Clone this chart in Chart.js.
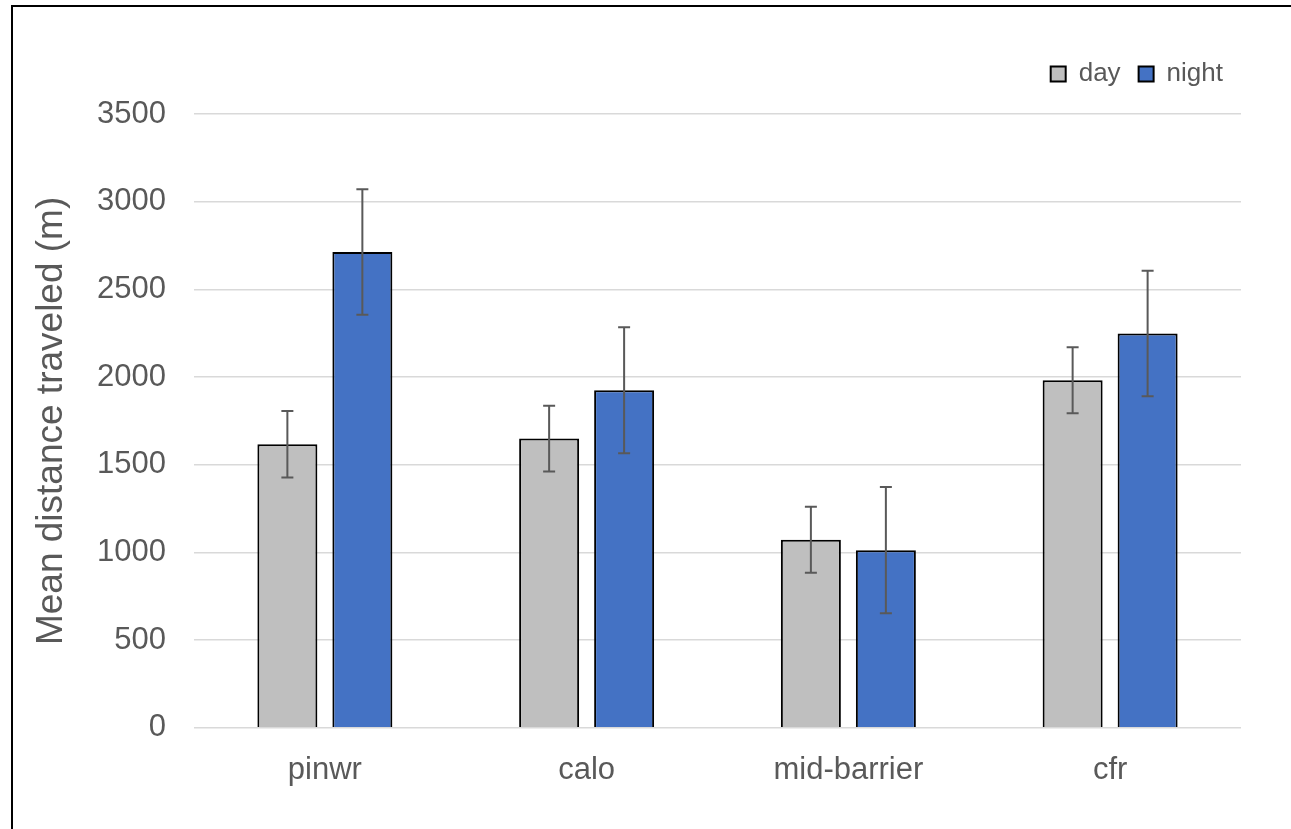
<!DOCTYPE html>
<html>
<head>
<meta charset="utf-8">
<script src="https://cdn.jsdelivr.net/npm/chart.js@4.4.1/dist/chart.umd.min.js"></script>
<style>
  html, body { margin: 0; padding: 0; background: #fff; }
  #wrap { position: relative; width: 1291px; height: 829px; overflow: hidden; }
  #frame { position: absolute; left: 11px; top: 5px; width: 1400px; height: 900px;
           border-left: 2px solid #000; border-top: 2px solid #000; box-sizing: border-box; }
  canvas { position: absolute; left: 0; top: 0; }
</style>
</head>
<body>
<div id="wrap">
  <div id="frame"></div>
  <canvas id="c" width="1291" height="829"></canvas>
</div>
<script>
const categories = ["pinwr", "calo", "mid-barrier", "cfr"];
const dayValues = [1617, 1649, 1072, 1982];
const dayErrors = [190, 187, 188, 188];
const nightValues = [2713, 1925, 1013, 2248];
const nightErrors = [358, 359, 360, 358];
const yTicks = [0, 500, 1000, 1500, 2000, 2500, 3000, 3500];

const FONT = "'Liberation Sans', Arial, sans-serif";
const TXT = "#595959";

const errorBars = {
  id: "errorBars",
  afterDatasetsDraw(chart) {
    const ctx = chart.ctx;
    const y = chart.scales.y;
    chart.data.datasets.forEach((ds, di) => {
      const meta = chart.getDatasetMeta(di);
      meta.data.forEach((bar, i) => {
        const v = ds.data[i], e = ds.errors[i];
        const yt = y.getPixelForValue(v + e);
        const yb = y.getPixelForValue(v - e);
        ctx.save();
        ctx.strokeStyle = "#595959";
        ctx.lineWidth = 2;
        ctx.beginPath();
        ctx.moveTo(bar.x, yt); ctx.lineTo(bar.x, yb);
        ctx.moveTo(bar.x - 6, yt); ctx.lineTo(bar.x + 6, yt);
        ctx.moveTo(bar.x - 6, yb); ctx.lineTo(bar.x + 6, yb);
        ctx.stroke();
        ctx.restore();
      });
    });
  }
};

// add spacing below the legend
const legendSpace = {
  id: "legendSpace",
  beforeLayout(chart) {
    const lg = chart.legend;
    if (lg && !lg._spaced) {
      const f = lg.fit.bind(lg);
      lg.fit = function () { f(); this.height += 17; };
      lg._spaced = true;
    }
  }
};

new Chart(document.getElementById("c"), {
  type: "bar",
  data: {
    labels: categories,
    datasets: [
      { label: "day", data: dayValues, errors: dayErrors, backgroundColor: "#bfbfbf",
        borderColor: "#000", borderWidth: 2 },
      { label: "night", data: nightValues, errors: nightErrors, backgroundColor: "#4472c4",
        borderColor: "#000", borderWidth: 2 }
    ]
  },
  options: {
    responsive: false,
    animation: false,
    devicePixelRatio: 1,
    categoryPercentage: 0.573,
    barPercentage: 0.8,
    layout: { padding: { left: 12, right: 50, top: 43, bottom: 16 } },
    plugins: {
      tooltip: { enabled: false },
      legend: {
        position: "top",
        align: "end",
        labels: {
          boxWidth: 15, boxHeight: 15, padding: 18,
          color: TXT, font: { family: FONT, size: 26 }
        }
      }
    },
    scales: {
      x: {
        grid: { display: false, drawTicks: false },
        border: { display: false },
        ticks: { color: TXT, font: { family: FONT, size: 31 }, padding: 24 }
      },
      y: {
        min: 0, max: 3500,
        afterBuildTicks: (s) => { s.ticks = yTicks.map(v => ({ value: v })); },
        afterFit: (s) => { s.width = 194 - 12; },
        grid: { color: "#d9d9d9", lineWidth: 1.5, drawTicks: false },
        border: { display: false },
        ticks: { color: TXT, font: { family: FONT, size: 31 }, padding: 28,
                 callback: (v) => String(v) },
        title: { display: true, text: "Mean distance traveled (m)", color: TXT,
                 font: { family: FONT, size: 37 }, padding: { top: 18, bottom: 0 } }
      }
    }
  },
  plugins: [errorBars, legendSpace]
});
</script>
</body>
</html>
